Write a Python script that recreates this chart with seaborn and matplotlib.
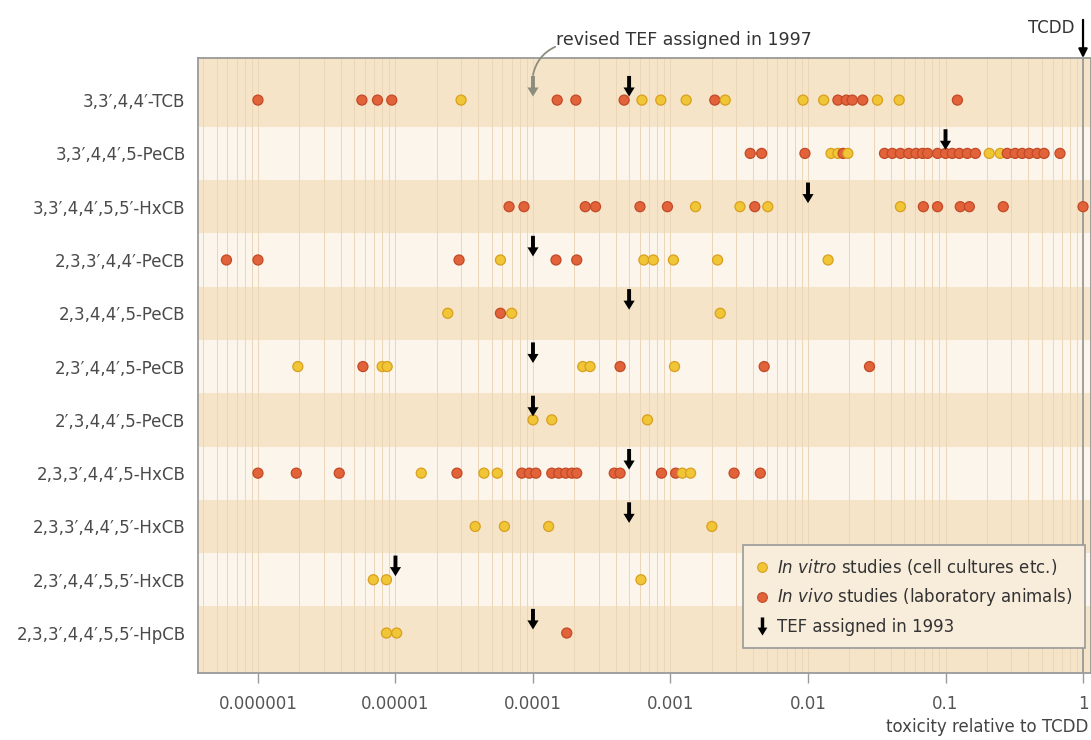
import numpy as np
import pandas as pd
import matplotlib
matplotlib.use("Agg")
import matplotlib.pyplot as plt
from matplotlib.path import Path
from matplotlib.lines import Line2D
from matplotlib.ticker import LogLocator, FixedLocator, FixedFormatter, NullFormatter
import seaborn as sns

# ---------------- data ----------------
categories = [
    "3,3′,4,4′-TCB",
    "3,3′,4,4′,5-PeCB",
    "3,3′,4,4′,5,5′-HxCB",
    "2,3,3′,4,4′-PeCB",
    "2,3,4,4′,5-PeCB",
    "2,3′,4,4′,5-PeCB",
    "2′,3,4,4′,5-PeCB",
    "2,3,3′,4,4′,5-HxCB",
    "2,3,3′,4,4′,5′-HxCB",
    "2,3′,4,4′,5,5′-HxCB",
    "2,3,3′,4,4′,5,5′-HpCB",
]

in_vitro = [
    [3.0e-5, 6.2e-4, 8.5e-4, 1.3e-3, 2.5e-3, 9.2e-3, 1.3e-2, 3.2e-2, 4.6e-2],
    [0.0147, 0.0165, 0.0195, 0.208, 0.25],
    [1.52e-3, 3.2e-3, 5.1e-3, 0.047],
    [5.8e-5, 6.4e-4, 7.5e-4, 1.05e-3, 2.2e-3, 0.014],
    [2.4e-5, 7.0e-5, 2.3e-3],
    [1.95e-6, 8.0e-6, 8.7e-6, 2.3e-4, 2.6e-4, 1.07e-3],
    [1.0e-4, 1.37e-4, 6.8e-4],
    [1.54e-5, 4.4e-5, 5.5e-5, 1.22e-3, 1.4e-3],
    [3.8e-5, 6.2e-5, 1.3e-4, 2.0e-3],
    [6.9e-6, 8.6e-6, 6.1e-4],
    [8.6e-6, 1.02e-5],
]

in_vivo = [
    [1.0e-6, 5.7e-6, 7.4e-6, 9.4e-6, 1.5e-4, 2.05e-4, 4.6e-4, 2.1e-3,
     1.65e-2, 1.9e-2, 2.1e-2, 2.5e-2, 0.122],
    [3.8e-3, 4.6e-3, 9.5e-3, 0.018, 0.036, 0.041, 0.047, 0.054, 0.061, 0.068,
     0.074, 0.0875, 0.1, 0.112, 0.126, 0.144, 0.165, 0.281, 0.321, 0.361,
     0.406, 0.464, 0.521, 0.68],
    [6.7e-5, 8.6e-5, 2.4e-4, 2.85e-4, 6.0e-4, 9.5e-4, 4.1e-3, 0.069, 0.0875,
     0.128, 0.149, 0.263, 1.0],
    [5.9e-7, 1.0e-6, 2.9e-5, 1.47e-4, 2.08e-4],
    [5.8e-5],
    [5.8e-6, 4.3e-4, 4.8e-3, 0.028],
    [],
    [1.0e-6, 1.9e-6, 3.9e-6, 2.8e-5, 8.3e-5, 9.4e-5, 1.05e-4, 1.37e-4,
     1.54e-4, 1.73e-4, 1.92e-4, 2.08e-4, 3.9e-4, 4.3e-4, 8.6e-4, 1.09e-3,
     2.9e-3, 4.5e-3],
    [],
    [],
    [1.76e-4],
]

tef_1993 = [5e-4, 0.1, 0.01, 1e-4, 5e-4, 1e-4, 1e-4, 5e-4, 5e-4, 1e-5, 1e-4]
revised_tef_1997 = 1e-4          # revised value for 3,3',4,4'-TCB
revised_row = categories[0]

xtick_values = [1e-6, 1e-5, 1e-4, 1e-3, 1e-2, 1e-1, 1]
xtick_labels = ["0.000001", "0.00001", "0.0001", "0.001", "0.01", "0.1", "1"]

study_labels = ["in vitro", "in vivo"]

# ---------------- styling ----------------
sns.set_style("white")
plt.rcParams["font.family"] = ["DejaVu Sans"]
plt.rcParams["mathtext.fontset"] = "dejavusans"

YELLOW, YELLOW_EDGE = "#f0c536", "#d9a01f"
RED, RED_EDGE = "#e2623a", "#c24a27"
BAND_DARK, BAND_LIGHT = "#f6e4c9", "#fcf5eb"
GRID_C = "#ecd6b8"
FRAME_C = "#9a9a9a"

# build long table
rows = []
for i, cat in enumerate(categories):
    for v in in_vitro[i]:
        rows.append((cat, i, v, study_labels[0]))
    for v in in_vivo[i]:
        rows.append((cat, i, v, study_labels[1]))
df = pd.DataFrame(rows, columns=["compound", "row", "value", "study"])
df = df.sort_values("value", kind="stable").reset_index(drop=True)
edge_map = {study_labels[0]: YELLOW_EDGE, study_labels[1]: RED_EDGE}
edges = df["study"].map(edge_map).tolist()

tef_df = pd.DataFrame({"compound": categories,
                       "row": np.arange(len(categories)),
                       "value": tef_1993})
ARROW_OFF = -0.26
tef_df["ypos"] = tef_df["row"] + ARROW_OFF

# down-arrow marker
arrow_path = Path(
    [(-0.19, 1.0), (0.19, 1.0), (0.19, -0.12), (0.54, -0.12), (0.0, -1.0),
     (-0.54, -0.12), (-0.19, -0.12), (-0.19, 1.0)],
    [Path.MOVETO] + [Path.LINETO] * 6 + [Path.CLOSEPOLY])

W, H = 1091, 740
fig = plt.figure(figsize=(W / 100, H / 100), dpi=100)
ax = fig.add_axes([198 / W, 1 - 673 / H, (W - 198) / W, (673 - 58) / H])

ax.set_xscale("log")
xmin, xmax = 10 ** -6.436, 10 ** 0.058
ylo, yhi = 10.75, -0.79
ax.set_xlim(xmin, xmax)
ax.set_ylim(ylo, yhi)

# alternating bands
n = len(categories)
for i in range(n):
    lo = yhi if i == 0 else i - 0.5
    hi = ylo if i == n - 1 else i + 0.5
    ax.axhspan(lo, hi, color=BAND_DARK if i % 2 == 0 else BAND_LIGHT,
               lw=0, zorder=0)

ax.set_axisbelow(True)
ax.xaxis.set_major_locator(FixedLocator(xtick_values))
ax.xaxis.set_major_formatter(FixedFormatter(xtick_labels))
ax.xaxis.set_minor_locator(LogLocator(base=10, subs=np.arange(2, 10), numticks=20))
ax.xaxis.set_minor_formatter(NullFormatter())
ax.grid(True, which="both", axis="x", color=GRID_C, lw=0.7)
ax.grid(False, axis="y")

ax.axvline(1, color=FRAME_C, lw=1.3, zorder=1)

# data points
sns.scatterplot(data=df, x="value", y="row", hue="study",
                palette={study_labels[0]: YELLOW, study_labels[1]: RED},
                s=52, edgecolor=edges, linewidth=0.9, legend=False,
                ax=ax, zorder=3)

# TEF 1993 arrows
sns.scatterplot(data=tef_df, x="value", y="ypos", marker=arrow_path, s=220,
                color="black", edgecolor="none", linewidth=0, legend=False,
                ax=ax, zorder=4)

# revised TEF 1997 (grey arrow)
rev_df = pd.DataFrame({"value": [revised_tef_1997],
                       "ypos": [categories.index(revised_row) + ARROW_OFF]})
sns.scatterplot(data=rev_df, x="value", y="ypos", marker=arrow_path, s=220,
                color="#8d8d7e", edgecolor="none", linewidth=0, legend=False,
                ax=ax, zorder=4)
ax.annotate("", xy=(revised_tef_1997, categories.index(revised_row) - 0.47),
            xytext=(1.45e-4, -1.0), textcoords="data",
            arrowprops=dict(arrowstyle="-", color="#8d8d7e", lw=1.3,
                            connectionstyle="arc3,rad=0.25",
                            shrinkA=0, shrinkB=0),
            annotation_clip=False, zorder=4)
fig.text(556 / W, 1 - 40 / H, "revised TEF assigned in 1997", ha="left",
         va="center", fontsize=12.5, color="#333333")

# TCDD arrow
ax.annotate("", xy=(1, 1.0), xycoords=("data", "axes fraction"),
            xytext=(1, 1.062), textcoords=("data", "axes fraction"),
            arrowprops=dict(arrowstyle="-|>", color="black", lw=1.6,
                            mutation_scale=13, shrinkA=0, shrinkB=0),
            annotation_clip=False)
ax.annotate("TCDD", xy=(1, 1.0), xycoords=("data", "axes fraction"),
            xytext=(-9, 30), textcoords="offset pixels", ha="right",
            va="center", fontsize=12, color="#333333", annotation_clip=False)

# axes styling
ax.set_yticks(np.arange(n))
ax.set_yticklabels(categories)
ax.tick_params(axis="y", length=0, pad=9, labelsize=12, labelcolor="#4a4a4a")
ax.tick_params(axis="x", which="major", length=7, width=1, color=FRAME_C,
               pad=9, labelsize=12, labelcolor="#555555", direction="out",
               bottom=True)
ax.tick_params(axis="x", which="minor", length=0)
ax.set_ylabel("")
ax.set_xlabel("toxicity relative to TCDD", fontsize=12, color="#444444",
              loc="right")
ax.xaxis.label.set_va("center")
ax.xaxis.set_label_coords((1088 - 198) / (W - 198), -(727 - 673) / (673 - 58))
for sp in ax.spines.values():
    sp.set_color(FRAME_C)
    sp.set_linewidth(1.3)

# legend
handles = [
    Line2D([], [], ls="", marker="o", markersize=7, markerfacecolor=YELLOW,
           markeredgecolor=YELLOW_EDGE, markeredgewidth=0.8,
           label=r"$\it{In\ vitro}$ studies (cell cultures etc.)"),
    Line2D([], [], ls="", marker="o", markersize=7, markerfacecolor=RED,
           markeredgecolor=RED_EDGE, markeredgewidth=0.8,
           label=r"$\it{In\ vivo}$ studies (laboratory animals)"),
    Line2D([], [], ls="", marker=arrow_path, markersize=13, color="black",
           markeredgewidth=0, label="TEF assigned in 1993"),
]
leg = ax.legend(handles=handles, loc="lower right",
                bbox_to_anchor=((1085 - 198) / (W - 198), (673 - 648) / (673 - 58)),
                fontsize=12, frameon=True, fancybox=False, edgecolor=FRAME_C,
                facecolor="#f8ecdb", framealpha=1, handlelength=0.8,
                handletextpad=0.5, labelspacing=0.55, borderpad=0.75,
                borderaxespad=0)
leg.get_frame().set_linewidth(1.2)
for t in leg.get_texts():
    t.set_color("#333333")

fig.savefig("out.png", dpi=100)
